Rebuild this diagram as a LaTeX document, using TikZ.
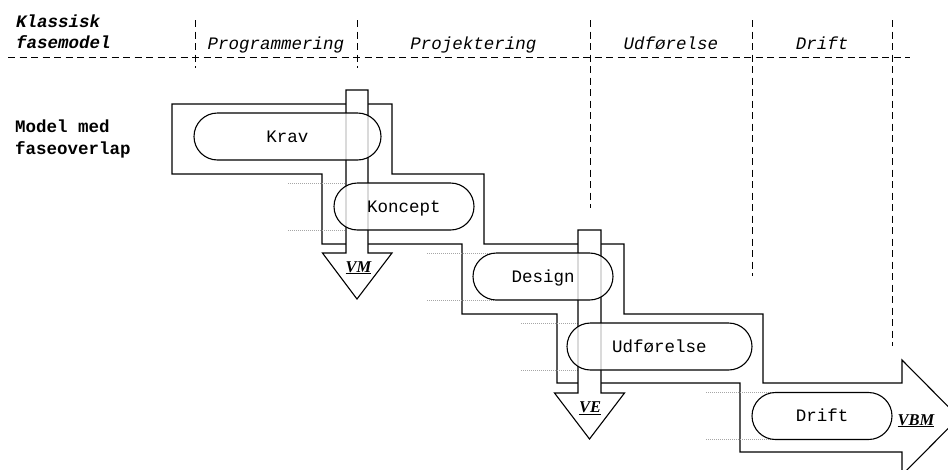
\documentclass[tikz,border=0pt]{standalone}
\usepackage{fontspec}
\setmonofont{Liberation Mono}
\newfontfamily\tagfont{Liberation Serif}
\begin{document}
\begin{tikzpicture}[x=1pt,y=-1pt,
  outline/.style={line width=1.1pt, line join=miter, draw=black, fill=white},
  phasegrid/.style={line width=0.9pt, dash pattern=on 7pt off 4.5pt},
  guide/.style={line width=0.8pt, gray!70, dash pattern=on 1pt off 1pt},
  phase/.style={draw=black, line width=1.1pt, fill=white, fill opacity=0.78,
    text opacity=1, rectangle, rounded corners=23.5pt, outer sep=0pt,
    minimum height=47pt, text height=11pt, text depth=0pt,
    font=\ttfamily\fontsize{17.5pt}{20pt}\selectfont},
  headtxt/.style={anchor=base, inner sep=0pt,
    font=\ttfamily\itshape\fontsize{17.5pt}{20pt}\selectfont},
  sidetxt/.style={anchor=base west, inner sep=0pt,
    font=\ttfamily\bfseries\fontsize{17.5pt}{20pt}\selectfont},
  titletxt/.style={sidetxt,
    font=\ttfamily\bfseries\itshape\fontsize{17.5pt}{20pt}\selectfont},
  tagtxt/.style={anchor=base, inner sep=0pt,
    font=\tagfont\bfseries\itshape\fontsize{16.5pt}{18pt}\selectfont}
]
\path[use as bounding box, clip] (0,0) rectangle (948,469);

% phase header grid
\draw[phasegrid] (8,57) -- (910,57);
\foreach \xx/\yy in {195/68, 357/68, 590/208, 752/276, 892/346}
  \draw[phasegrid] (\xx,20) -- (\xx,\yy);

\node[titletxt] (k1) at (16,27.5) {Klassisk};
\node[titletxt] (k2) at (16,48.5) {fasemodel};
\node[headtxt] (h1) at (276,49) {Programmering};
\node[headtxt] (h2) at (473.5,49) {Projektering};
\node[headtxt] (h3) at (671,49) {Udførelse};
\node[headtxt] (h4) at (822,49) {Drift};

\node[sidetxt] (m1) at (15,132) {Model med};
\node[sidetxt] (m2) at (15,154) {faseoverlap};

% staircase arrow of overlapping phases
\draw[outline] (172,104) -- (392,104) -- (392,174) -- (484,174) -- (484,244)
  -- (624,244) -- (624,314) -- (763,314) -- (763,383) -- (902,383)
  -- (902,360) -- (959,417.5) -- (902,475) -- (902,452) -- (740,452)
  -- (740,383) -- (557,383) -- (557,314) -- (462,314) -- (462,244)
  -- (322,244) -- (322,174) -- (172,174) -- cycle;

% phase box positions
\coordinate (pkon) at (404,206.5);
\coordinate (pdes) at (543,276.5);
\coordinate (pudf) at (659.5,346.5);
\coordinate (pdri) at (822,416);

% dotted guide lines along the box edges
\foreach \c/\w in {pkon/140, pdes/140, pudf/185, pdri/140} {
  \draw[guide] ([xshift=-\w/2-46pt, yshift=23.5pt]\c) -- ([xshift=-\w/2+23.5pt, yshift=23.5pt]\c);
  \draw[guide] ([xshift=-\w/2-46pt, yshift=-23.5pt]\c) -- ([xshift=-\w/2+23.5pt, yshift=-23.5pt]\c);
}

% vertical milestone arrows
\draw[outline] (346,90) -- (368,90) -- (368,253) -- (392,253) -- (357,299)
  -- (322.5,253) -- (346,253) -- cycle;
\draw[outline] (578,230) -- (601,230) -- (601,393) -- (624.5,393) -- (589.5,439)
  -- (554.5,393) -- (578,393) -- cycle;

% phase boxes
\node[phase, minimum width=187pt] (krav) at (287.5,136.5) {Krav};
\node[phase, minimum width=140pt] (kon) at (pkon) {Koncept};
\node[phase, minimum width=140pt] (des) at (pdes) {Design};
\node[phase, minimum width=185pt] (udf) at (pudf) {Udførelse};
\node[phase, minimum width=140pt] (dri) at (pdri) {Drift};

% milestone labels
\node[tagtxt] (vm) at (358.5,272) {\underline{VM}};
\node[tagtxt] (ve) at (590,412.5) {\underline{VE}};
\node[tagtxt] (vbm) at (916,425) {\underline{VBM}};
\end{tikzpicture}
\end{document}
